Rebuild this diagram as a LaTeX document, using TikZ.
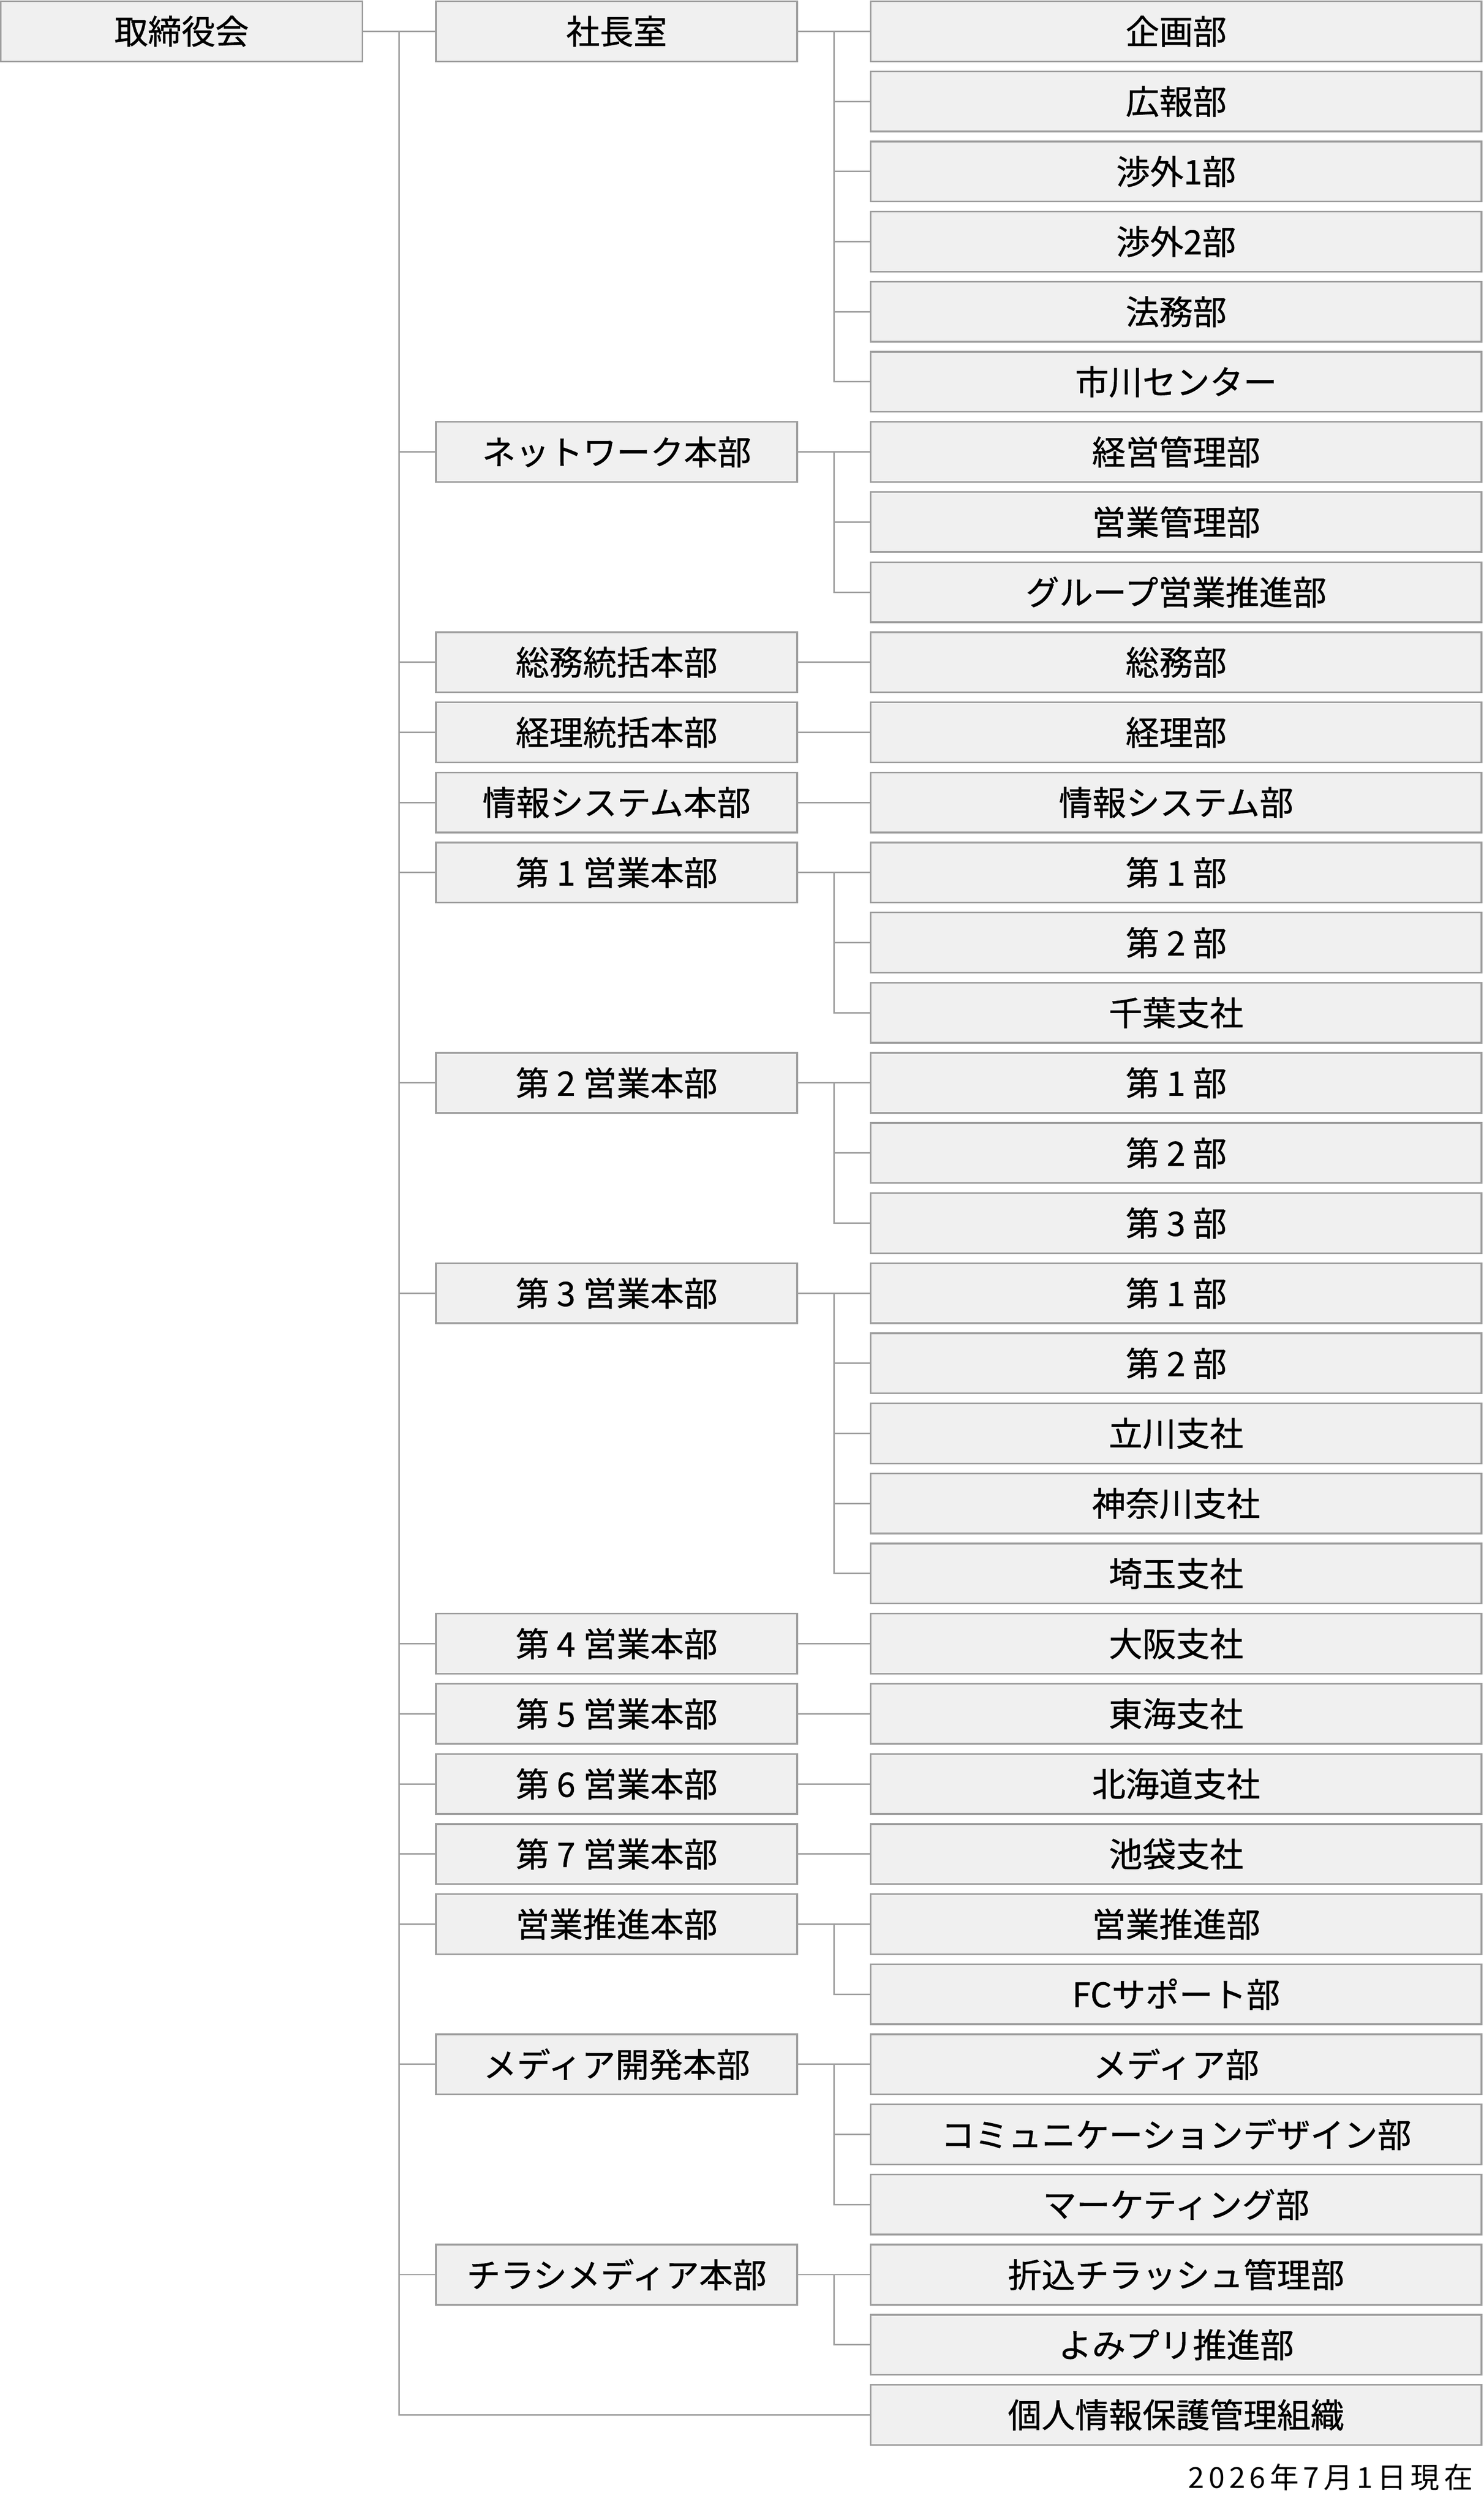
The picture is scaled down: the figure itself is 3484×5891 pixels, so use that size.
\documentclass[tikz,border=0pt]{standalone}
\usepackage{fontspec}
\setmainfont{Noto Sans CJK JP}
\begin{document}
\begin{tikzpicture}[x=0.25pt,y=-0.25pt,
  box/.style={draw=linegray,fill=boxfill,line width=1pt,inner sep=0pt,
    minimum height=35.25pt,font=\fontsize{19.75pt}{23pt}\selectfont\addfontfeature{FakeBold=0.8},text=black},
  c1/.style={box,minimum width=212.25pt},
  c2/.style={box,minimum width=212pt},
  c3/.style={box,minimum width=358.5pt},
  conn/.style={draw=linegray,line width=0.875pt}]
\definecolor{linegray}{HTML}{9E9E9E}
\definecolor{boxfill}{HTML}{F0F0F0}
\useasboundingbox (0,0) rectangle (3484,5891);
% column 1
\node[c1] (top) at (426.5,73.5) {取締役会};
% column 3
\foreach \i/\t in {0/企画部,1/広報部,2/渉外1部,3/渉外2部,4/法務部,5/市川センター,
  6/経営管理部,7/営業管理部,8/グループ営業推進部,9/総務部,10/経理部,11/情報システム部,
  12/第 1 部,13/第 2 部,14/千葉支社,15/第 1 部,16/第 2 部,17/第 3 部,
  18/第 1 部,19/第 2 部,20/立川支社,21/神奈川支社,22/埼玉支社,
  23/大阪支社,24/東海支社,25/北海道支社,26/池袋支社,27/営業推進部,28/FCサポート部,
  29/メディア部,30/コミュニケーションデザイン部,31/マーケティング部,
  32/折込チラッシュ管理部,33/よみプリ推進部,34/個人情報保護管理組織}
  \node[c3] (c\i) at (2762,{73.5+164.6*\i}) {\t};
% trunk
\coordinate (trunk) at (937,73.5);
\coordinate (sx) at (1959,73.5);
\draw[conn] (top.east) -- (trunk);
\draw[conn] (trunk) |- (c34.west);
% column 2
\foreach \i/\t/\l in {0/社長室/5,6/ネットワーク本部/8,9/総務統括本部/9,10/経理統括本部/10,
  11/情報システム本部/11,12/第 1 営業本部/14,15/第 2 営業本部/17,18/第 3 営業本部/22,
  23/第 4 営業本部/23,24/第 5 営業本部/24,25/第 6 営業本部/25,26/第 7 営業本部/26,
  27/営業推進本部/28,29/メディア開発本部/31,32/チラシメディア本部/33}
{
  \node[c2] (b\i) at (1448,{73.5+164.6*\i}) {\t};
  \draw[conn] (b\i.west -| trunk) -- (b\i.west);
  \draw[conn] (b\i.east) -- (c\i.west);
  \draw[conn] (c\i.west -| sx) |- (c\l.west);
  \foreach \k in {\i,...,\l} \draw[conn] (c\k.west -| sx) -- (c\k.west);
}
% date
\node[inner sep=0pt,anchor=base east,font=\fontsize{17pt}{20pt}\selectfont\addfontfeature{LetterSpace=15}] (date) at (3460,5842) {2026年7月1日現在};
\end{tikzpicture}
\end{document}
